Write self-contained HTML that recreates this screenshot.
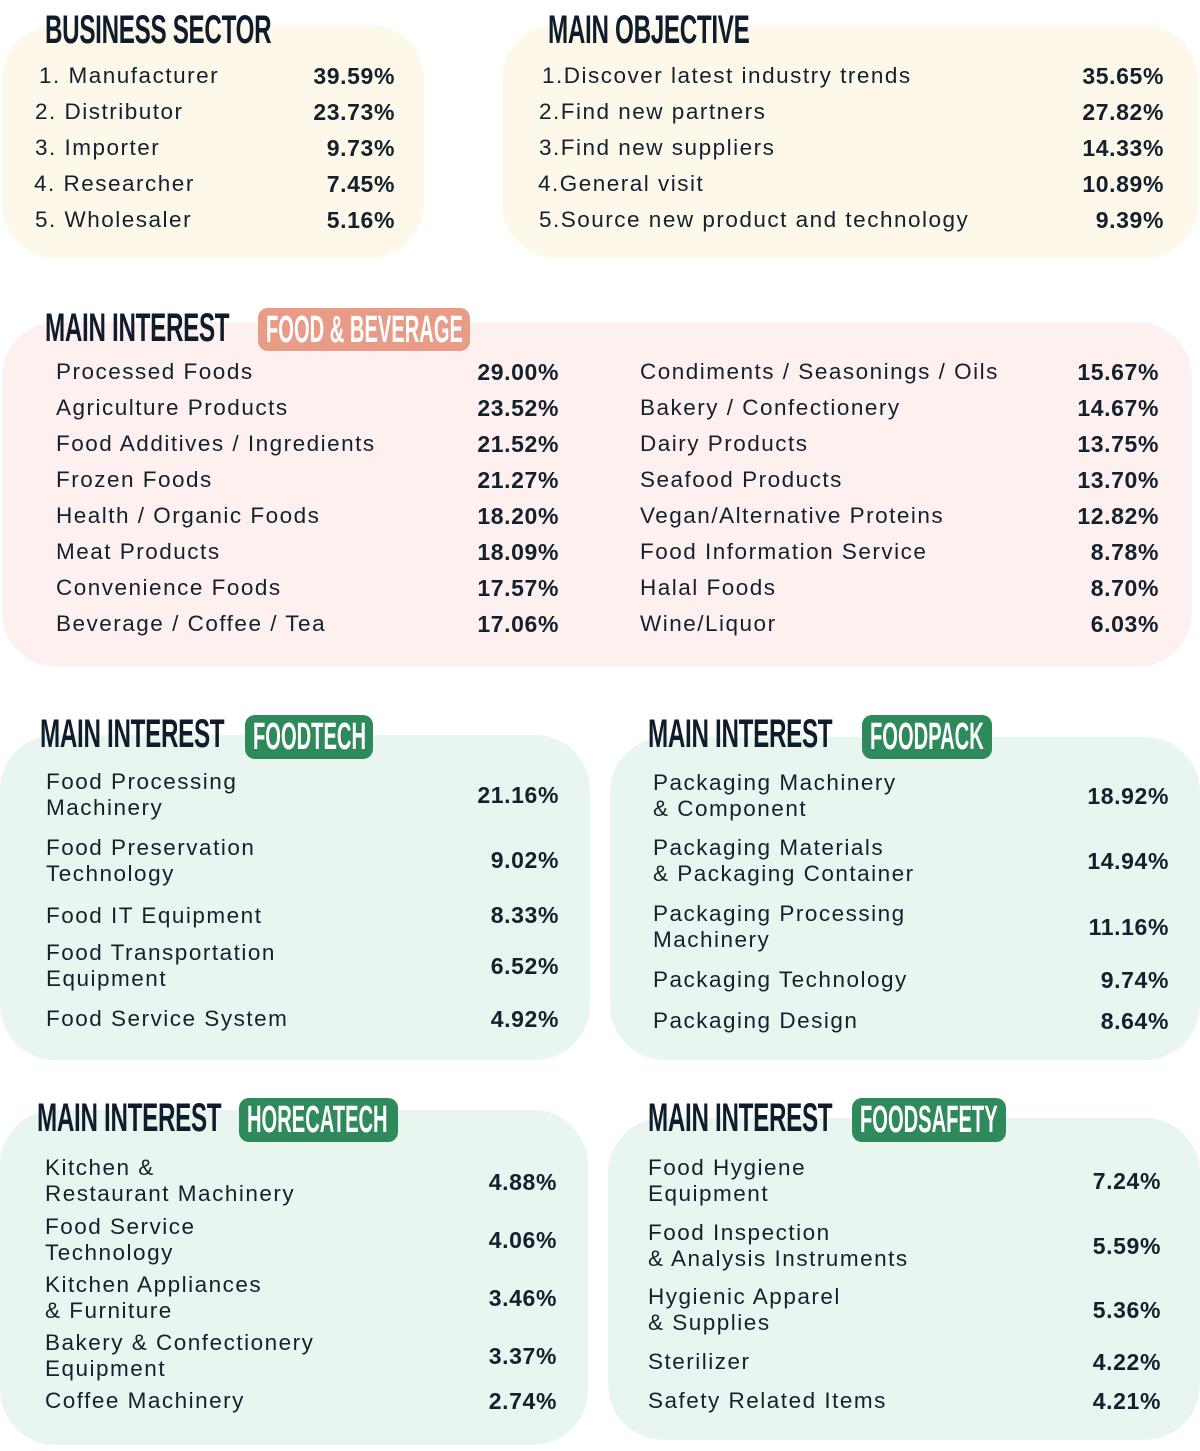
<!DOCTYPE html>
<html><head><meta charset="utf-8"><style>
body{margin:0;width:1200px;height:1451px;position:relative;background:#fff;font-family:"Liberation Sans",sans-serif;color:#13202e;overflow:hidden}
.box{position:absolute;border-radius:55px}
.y{background:#fdf8e9}.p{background:#fdf0ef}.g{background:#e9f6ef}
.t{position:absolute;font-weight:bold;font-size:40px;line-height:40px;transform:scaleX(0.605);transform-origin:left top;white-space:nowrap;color:#0f1c2b;letter-spacing:-0.5px}
.b{position:absolute;border-radius:10px;color:#fff}
.b span{position:absolute;left:8px;top:3px;font-weight:bold;font-size:38px;line-height:38px;transform:scaleX(0.53);transform-origin:left top;white-space:nowrap}
.l{position:absolute;font-size:22.5px;line-height:26px;white-space:nowrap;letter-spacing:1.5px}
.v{position:absolute;font-size:23px;line-height:26px;font-weight:bold;text-align:right;width:140px;white-space:nowrap;letter-spacing:0.6px}
</style></head><body>
<div class="box y" style="left:2px;top:25px;width:422px;height:233px"></div>
<div class="box y" style="left:502px;top:25px;width:696px;height:233px"></div>
<div class="box p" style="left:2px;top:322px;width:1190px;height:345px"></div>
<div class="box g" style="left:0;top:735px;width:590px;height:325px"></div>
<div class="box g" style="left:610px;top:737px;width:590px;height:323px"></div>
<div class="box g" style="left:0;top:1110px;width:588px;height:335px"></div>
<div class="box g" style="left:608px;top:1118px;width:592px;height:322px"></div>

<div class="t" style="left:45px;top:10px">BUSINESS SECTOR</div>
<div class="t" style="left:548px;top:10px">MAIN OBJECTIVE</div>
<div class="t" style="left:45px;top:308px">MAIN INTEREST</div>
<div class="b" style="left:258px;top:308px;width:212px;height:43px;background:#e89b86"><span>FOOD &amp; BEVERAGE</span></div>
<div class="t" style="left:40px;top:714px">MAIN INTEREST</div>
<div class="b" style="left:245px;top:715px;width:128px;height:44px;background:#2e8a5a"><span>FOODTECH</span></div>
<div class="t" style="left:648px;top:714px">MAIN INTEREST</div>
<div class="b" style="left:862px;top:715px;width:130px;height:44px;background:#2e8a5a"><span>FOODPACK</span></div>
<div class="t" style="left:37px;top:1098px">MAIN INTEREST</div>
<div class="b" style="left:239px;top:1098px;width:159px;height:44px;background:#2e8a5a"><span>HORECATECH</span></div>
<div class="t" style="left:648px;top:1098px">MAIN INTEREST</div>
<div class="b" style="left:852px;top:1098px;width:154px;height:44px;background:#2e8a5a"><span>FOODSAFETY</span></div>

<!-- Business -->
<div class="l" style="left:39px;top:63px">1. Manufacturer</div><div class="v" style="left:255px;top:63px">39.59%</div>
<div class="l" style="left:35px;top:99px">2. Distributor</div><div class="v" style="left:255px;top:99px">23.73%</div>
<div class="l" style="left:35px;top:135px">3. Importer</div><div class="v" style="left:255px;top:135px">9.73%</div>
<div class="l" style="left:34px;top:171px">4. Researcher</div><div class="v" style="left:255px;top:171px">7.45%</div>
<div class="l" style="left:35px;top:207px">5. Wholesaler</div><div class="v" style="left:255px;top:207px">5.16%</div>
<!-- Objective -->
<div class="l" style="left:542px;top:63px">1.Discover latest industry trends</div><div class="v" style="left:1024px;top:63px">35.65%</div>
<div class="l" style="left:539px;top:99px">2.Find new partners</div><div class="v" style="left:1024px;top:99px">27.82%</div>
<div class="l" style="left:539px;top:135px">3.Find new suppliers</div><div class="v" style="left:1024px;top:135px">14.33%</div>
<div class="l" style="left:538px;top:171px">4.General visit</div><div class="v" style="left:1024px;top:171px">10.89%</div>
<div class="l" style="left:539px;top:207px">5.Source new product and technology</div><div class="v" style="left:1024px;top:207px">9.39%</div>
<!-- F&B -->
<div class="l" style="left:56px;top:359px">Processed Foods</div><div class="v" style="left:419px;top:359px">29.00%</div>
<div class="l" style="left:56px;top:395px">Agriculture Products</div><div class="v" style="left:419px;top:395px">23.52%</div>
<div class="l" style="left:56px;top:431px">Food Additives / Ingredients</div><div class="v" style="left:419px;top:431px">21.52%</div>
<div class="l" style="left:56px;top:467px">Frozen Foods</div><div class="v" style="left:419px;top:467px">21.27%</div>
<div class="l" style="left:56px;top:503px">Health / Organic Foods</div><div class="v" style="left:419px;top:503px">18.20%</div>
<div class="l" style="left:56px;top:539px">Meat Products</div><div class="v" style="left:419px;top:539px">18.09%</div>
<div class="l" style="left:56px;top:575px">Convenience Foods</div><div class="v" style="left:419px;top:575px">17.57%</div>
<div class="l" style="left:56px;top:611px">Beverage / Coffee / Tea</div><div class="v" style="left:419px;top:611px">17.06%</div>
<div class="l" style="left:640px;top:359px">Condiments / Seasonings / Oils</div><div class="v" style="left:1019px;top:359px">15.67%</div>
<div class="l" style="left:640px;top:395px">Bakery / Confectionery</div><div class="v" style="left:1019px;top:395px">14.67%</div>
<div class="l" style="left:640px;top:431px">Dairy Products</div><div class="v" style="left:1019px;top:431px">13.75%</div>
<div class="l" style="left:640px;top:467px">Seafood Products</div><div class="v" style="left:1019px;top:467px">13.70%</div>
<div class="l" style="left:640px;top:503px">Vegan/Alternative Proteins</div><div class="v" style="left:1019px;top:503px">12.82%</div>
<div class="l" style="left:640px;top:539px">Food Information Service</div><div class="v" style="left:1019px;top:539px">8.78%</div>
<div class="l" style="left:640px;top:575px">Halal Foods</div><div class="v" style="left:1019px;top:575px">8.70%</div>
<div class="l" style="left:640px;top:611px">Wine/Liquor</div><div class="v" style="left:1019px;top:611px">6.03%</div>
<!-- Foodtech -->
<div class="l" style="left:46px;top:769px">Food Processing<br>Machinery</div><div class="v" style="left:419px;top:782px">21.16%</div>
<div class="l" style="left:46px;top:835px">Food Preservation<br>Technology</div><div class="v" style="left:419px;top:847px">9.02%</div>
<div class="l" style="left:46px;top:903px">Food IT Equipment</div><div class="v" style="left:419px;top:902px">8.33%</div>
<div class="l" style="left:46px;top:940px">Food Transportation<br>Equipment</div><div class="v" style="left:419px;top:953px">6.52%</div>
<div class="l" style="left:46px;top:1006px">Food Service System</div><div class="v" style="left:419px;top:1006px">4.92%</div>
<!-- Foodpack -->
<div class="l" style="left:653px;top:770px">Packaging Machinery<br>&amp; Component</div><div class="v" style="left:1029px;top:783px">18.92%</div>
<div class="l" style="left:653px;top:835px">Packaging Materials<br>&amp; Packaging Container</div><div class="v" style="left:1029px;top:848px">14.94%</div>
<div class="l" style="left:653px;top:901px">Packaging Processing<br>Machinery</div><div class="v" style="left:1029px;top:914px">11.16%</div>
<div class="l" style="left:653px;top:967px">Packaging Technology</div><div class="v" style="left:1029px;top:967px">9.74%</div>
<div class="l" style="left:653px;top:1008px">Packaging Design</div><div class="v" style="left:1029px;top:1008px">8.64%</div>
<!-- Horeca -->
<div class="l" style="left:45px;top:1155px">Kitchen &amp;<br>Restaurant Machinery</div><div class="v" style="left:417px;top:1169px">4.88%</div>
<div class="l" style="left:45px;top:1214px">Food Service<br>Technology</div><div class="v" style="left:417px;top:1227px">4.06%</div>
<div class="l" style="left:45px;top:1272px">Kitchen Appliances<br>&amp; Furniture</div><div class="v" style="left:417px;top:1285px">3.46%</div>
<div class="l" style="left:45px;top:1330px">Bakery &amp; Confectionery<br>Equipment</div><div class="v" style="left:417px;top:1343px">3.37%</div>
<div class="l" style="left:45px;top:1388px">Coffee Machinery</div><div class="v" style="left:417px;top:1388px">2.74%</div>
<!-- Foodsafety -->
<div class="l" style="left:648px;top:1155px">Food Hygiene<br>Equipment</div><div class="v" style="left:1021px;top:1168px">7.24%</div>
<div class="l" style="left:648px;top:1220px">Food Inspection<br>&amp; Analysis Instruments</div><div class="v" style="left:1021px;top:1233px">5.59%</div>
<div class="l" style="left:648px;top:1284px">Hygienic Apparel<br>&amp; Supplies</div><div class="v" style="left:1021px;top:1297px">5.36%</div>
<div class="l" style="left:648px;top:1349px">Sterilizer</div><div class="v" style="left:1021px;top:1349px">4.22%</div>
<div class="l" style="left:648px;top:1388px">Safety Related Items</div><div class="v" style="left:1021px;top:1388px">4.21%</div>
</body></html>
